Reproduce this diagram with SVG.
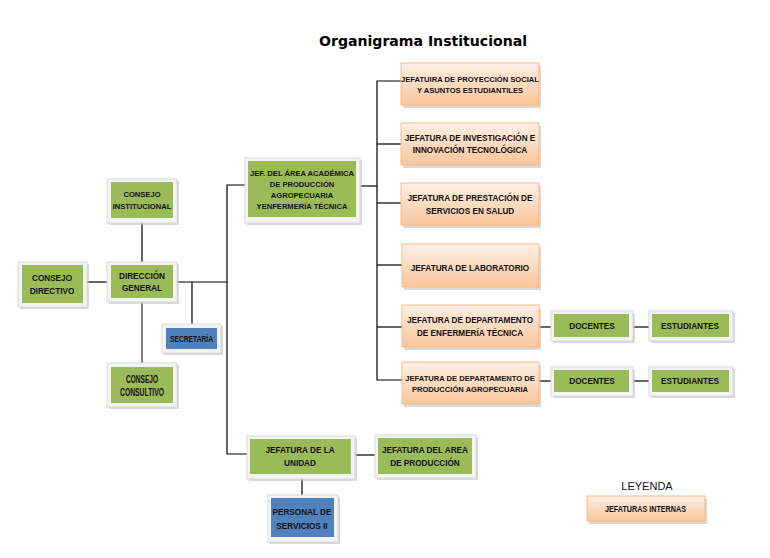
<svg xmlns="http://www.w3.org/2000/svg" width="770" height="558" viewBox="0 0 770 558">
<defs>
<linearGradient id="og" x1="0" y1="0" x2="0" y2="1">
<stop offset="0" stop-color="#FEF0E6"/>
<stop offset="1" stop-color="#FAC59A"/>
</linearGradient>
</defs>
<style>
.sh{fill:#BFBFBF;opacity:0.6}
.fr{fill:#F4F4F4;stroke:#DADADA;stroke-width:1}
.gr{fill:#9BBB59}
.bl{fill:#4F81BD}
.or{fill:url(#og);stroke:#F8BB8A;stroke-width:1}
.t{font-family:"Liberation Sans",Arial,sans-serif;font-weight:bold;font-size:8.2px;fill:#111;text-anchor:middle}
.s{font-size:7.6px}
.c{font-family:"Liberation Sans",Arial,sans-serif;font-weight:bold;font-size:11px;fill:#111;text-anchor:middle}
.ln{stroke:#000;stroke-width:1.2;fill:none}
</style>
<rect width="770" height="558" fill="#fff"/>
<text x="423" y="46" font-family="DejaVu Sans,Verdana,sans-serif" font-weight="bold" font-size="14.5" text-anchor="middle" fill="#000" textLength="208" lengthAdjust="spacingAndGlyphs">Organigrama Institucional</text>

<g id="connectors">
<line class="ln" x1="142" y1="223" x2="142" y2="262"/>
<line x1="142" y1="302" x2="142" y2="363" stroke="#777" stroke-width="1.8"/>
<line class="ln" x1="87" y1="282" x2="107" y2="282"/>
<line class="ln" x1="177" y1="282" x2="227" y2="282"/>
<line class="ln" x1="192" y1="282" x2="192" y2="324"/>
<polyline class="ln" points="245,185 227,185 227,454 247,454"/>
<line class="ln" x1="360" y1="186" x2="377" y2="186"/>
<polyline class="ln" points="401,81 377,81 377,380 402,380"/>
<line class="ln" x1="377" y1="144" x2="401" y2="144"/>
<line class="ln" x1="377" y1="203" x2="401" y2="203"/>
<line class="ln" x1="377" y1="265" x2="402" y2="265"/>
<line class="ln" x1="377" y1="327" x2="402" y2="327"/>
<line class="ln" x1="539" y1="327" x2="551" y2="327"/>
<line class="ln" x1="633" y1="327" x2="649" y2="327"/>
<line class="ln" x1="539" y1="381" x2="551" y2="381"/>
<line class="ln" x1="633" y1="381" x2="649" y2="381"/>
<line class="ln" x1="355" y1="455" x2="375" y2="455"/>
<line class="ln" x1="302" y1="479" x2="302" y2="495"/>
</g>

<g id="consejo-institucional">
<rect class="sh" x="109" y="181" width="70" height="44"/>
<rect class="fr" x="107" y="179" width="70" height="44"/>
<rect class="gr" x="111" y="182" width="62" height="36"/>
<text class="t s" x="142" y="197">CONSEJO</text>
<text class="t s" x="142" y="209">INSTITUCIONAL</text>
</g>

<g id="consejo-directivo">
<rect class="sh" x="20" y="264" width="69" height="45"/>
<rect class="fr" x="18" y="262" width="69" height="45"/>
<rect class="gr" x="22" y="265" width="61" height="38"/>
<text class="t" x="52" y="281">CONSEJO</text>
<text class="t" x="52" y="294">DIRECTIVO</text>
</g>

<g id="direccion-general">
<rect class="sh" x="109" y="264" width="70" height="40"/>
<rect class="fr" x="107" y="262" width="70" height="40"/>
<rect class="gr" x="111" y="265" width="62" height="33"/>
<text class="t" x="142" y="279">DIRECCIÓN</text>
<text class="t" x="142" y="291">GENERAL</text>
</g>

<g id="secretaria">
<rect class="sh" x="164" y="326" width="59" height="29"/>
<rect class="fr" x="162" y="324" width="59" height="29"/>
<rect class="bl" x="166" y="328" width="51" height="21"/>
<text class="t" x="191.5" y="342" font-size="7" textLength="43" lengthAdjust="spacingAndGlyphs">SECRETARÍA</text>
</g>

<g id="consejo-consultivo">
<rect class="sh" x="109" y="365" width="70" height="44"/>
<rect class="fr" x="107" y="363" width="70" height="44"/>
<rect class="gr" x="111" y="367" width="62" height="36"/>
<text class="c" x="142" y="383" textLength="32" lengthAdjust="spacingAndGlyphs">CONSEJO</text>
<text class="c" x="142" y="396" textLength="44" lengthAdjust="spacingAndGlyphs">CONSULTIVO</text>
</g>

<g id="jef-area-academica">
<rect class="sh" x="247" y="160" width="115" height="65"/>
<rect class="fr" x="245" y="158" width="115" height="65"/>
<rect class="gr" x="248" y="161" width="108" height="56"/>
<text class="t s" x="302" y="176">JEF. DEL ÁREA  ACADÉMICA</text>
<text class="t s" x="302" y="187">DE PRODUCCIÓN</text>
<text class="t s" x="302" y="198">AGROPECUARIA</text>
<text class="t s" x="302" y="209">YENFERMERÍA  TÉCNICA</text>
</g>

<g id="jef-proyeccion">
<rect class="sh" x="403" y="66" width="138" height="42"/>
<rect class="or" x="401" y="63" width="138" height="42"/>
<text class="t s" x="470" y="82">JEFATUIRA  DE PROYECCIÓN SOCIAL</text>
<text class="t s" x="470" y="93">Y ASUNTOS  ESTUDIANTILES</text>
</g>

<g id="jef-investigacion">
<rect class="sh" x="403" y="126" width="138" height="42"/>
<rect class="or" x="401" y="123" width="138" height="42"/>
<text class="t" x="470" y="141">JEFATURA DE INVESTIGACIÓN E</text>
<text class="t" x="470" y="153">INNOVACIÓN TECNOLÓGICA</text>
</g>

<g id="jef-prestacion">
<rect class="sh" x="403" y="186" width="138" height="42"/>
<rect class="or" x="401" y="183" width="138" height="42"/>
<text class="t" x="470" y="201">JEFATURA DE PRESTACIÓN DE</text>
<text class="t" x="470" y="214">SERVICIOS EN SALUD</text>
</g>

<g id="jef-laboratorio">
<rect class="sh" x="404" y="247" width="137" height="43"/>
<rect class="or" x="402" y="244" width="137" height="43"/>
<text class="t" x="470" y="271">JEFATURA DE LABORATORIO</text>
</g>

<g id="jef-dep-enfermeria">
<rect class="sh" x="404" y="308" width="137" height="42"/>
<rect class="or" x="402" y="305" width="137" height="42"/>
<text class="t" x="470" y="323">JEFATURA DE DEPARTAMENTO</text>
<text class="t" x="470" y="336">DE ENFERMERÍA TÉCNICA</text>
</g>

<g id="jef-dep-produccion">
<rect class="sh" x="404" y="365" width="137" height="42"/>
<rect class="or" x="402" y="362" width="137" height="42"/>
<text class="t s" x="470" y="381">JEFATURA  DE DEPARTAMENTO  DE</text>
<text class="t s" x="470" y="392">PRODUCCIÓN  AGROPECUARIA</text>
</g>

<g id="docentes-1">
<rect class="sh" x="553" y="313" width="82" height="30"/>
<rect class="fr" x="551" y="311" width="82" height="30"/>
<rect class="gr" x="554" y="314" width="75" height="23"/>
<text class="t" x="592" y="329">DOCENTES</text>
</g>

<g id="estudiantes-1">
<rect class="sh" x="651" y="313" width="84" height="30"/>
<rect class="fr" x="649" y="311" width="84" height="30"/>
<rect class="gr" x="652" y="314" width="77" height="23"/>
<text class="t" x="690" y="329">ESTUDIANTES</text>
</g>

<g id="docentes-2">
<rect class="sh" x="553" y="369" width="82" height="29"/>
<rect class="fr" x="551" y="367" width="82" height="29"/>
<rect class="gr" x="554" y="370" width="75" height="22"/>
<text class="t" x="592" y="384">DOCENTES</text>
</g>

<g id="estudiantes-2">
<rect class="sh" x="651" y="369" width="84" height="29"/>
<rect class="fr" x="649" y="367" width="84" height="29"/>
<rect class="gr" x="652" y="370" width="77" height="22"/>
<text class="t" x="690" y="384">ESTUDIANTES</text>
</g>

<g id="jefatura-unidad">
<rect class="sh" x="249" y="438" width="108" height="43"/>
<rect class="fr" x="247" y="436" width="108" height="43"/>
<rect class="gr" x="250" y="439" width="101" height="35"/>
<text class="t" x="300" y="453">JEFATURA DE LA</text>
<text class="t" x="300" y="466">UNIDAD</text>
</g>

<g id="jefatura-area-produccion">
<rect class="sh" x="377" y="437" width="101" height="43"/>
<rect class="fr" x="375" y="435" width="101" height="43"/>
<rect class="gr" x="378" y="438" width="94" height="36"/>
<text class="t" x="425" y="453">JEFATURA DEL AREA</text>
<text class="t" x="425" y="466">DE PRODUCCIÓN</text>
</g>

<g id="personal-servicios">
<rect class="sh" x="270" y="497" width="70" height="47"/>
<rect class="fr" x="268" y="495" width="70" height="47"/>
<rect class="bl" x="271" y="498" width="63" height="39"/>
<text class="t" x="302" y="515">PERSONAL DE</text>
<text class="t" x="302" y="529">SERVICIOS II</text>
</g>

<g id="leyenda">
<text x="647" y="490" font-family="Liberation Sans,Arial,sans-serif" font-size="11" fill="#111" text-anchor="middle">LEYENDA</text>
<rect class="sh" x="589" y="499" width="118" height="25"/>
<rect class="or" x="587" y="496" width="118" height="25"/>
<text class="t" x="645.5" y="512" font-size="7.5" textLength="81" lengthAdjust="spacingAndGlyphs">JEFATURAS  INTERNAS</text>
</g>
</svg>
